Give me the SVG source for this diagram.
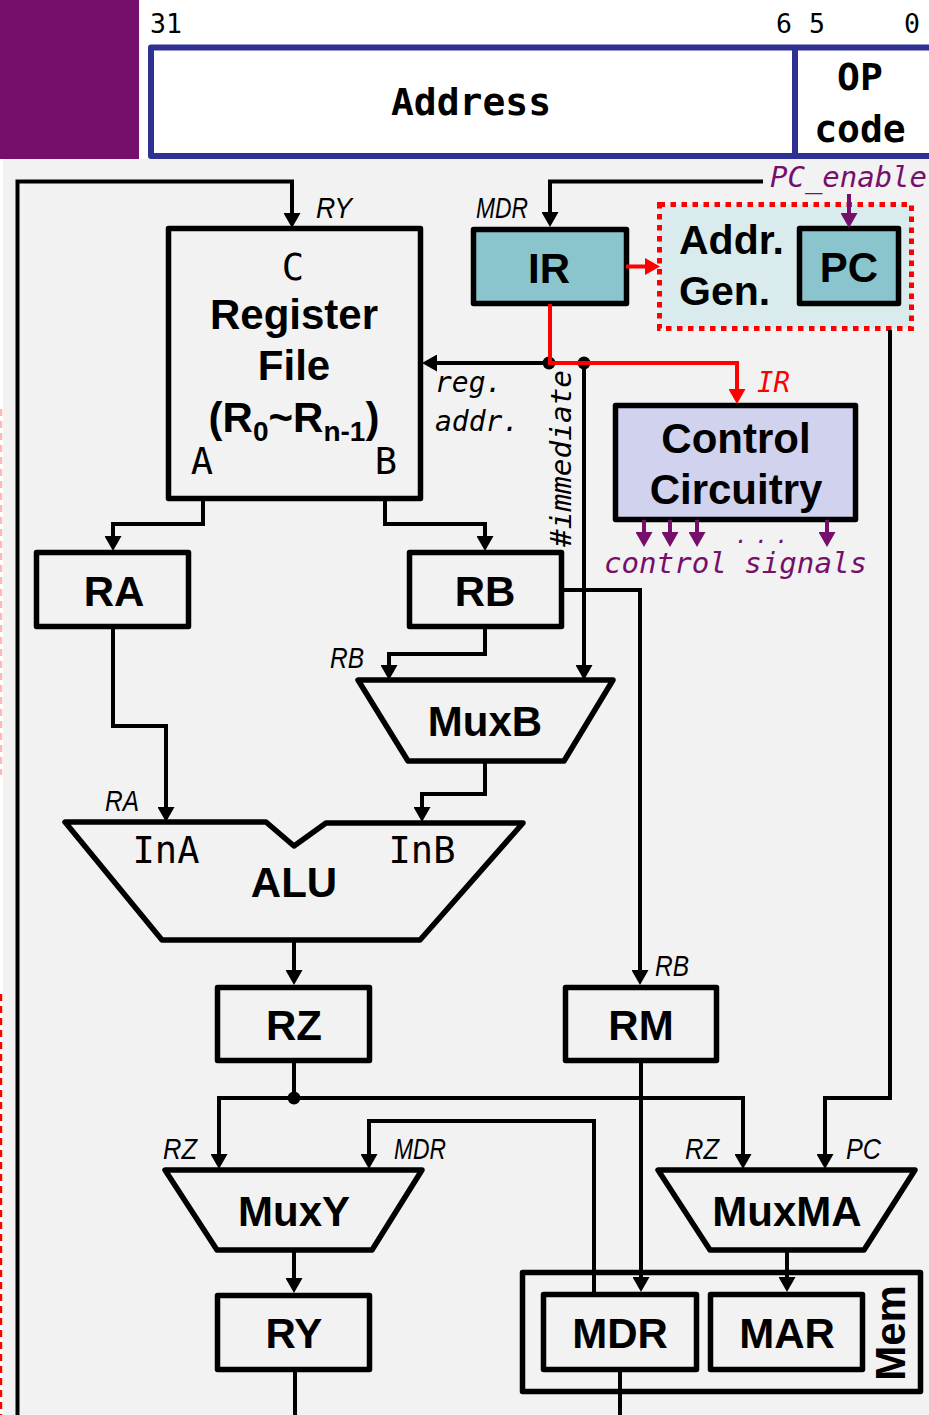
<svg xmlns="http://www.w3.org/2000/svg" width="929" height="1415" viewBox="0 0 929 1415">
<style>
.n{fill:none;stroke:#000;stroke-width:5.5;stroke-linejoin:round}
.c{fill:none;stroke:#000;stroke-width:4;marker-end:url(#ak)}
.l{fill:none;stroke:#000;stroke-width:4}
.r{fill:none;stroke:#f00;stroke-width:4;marker-end:url(#ar)}
.p{fill:none;stroke:#760F6B;stroke-width:4;marker-end:url(#ap)}
.b{font-family:"Liberation Sans",Arial,sans-serif;font-weight:700;font-size:42px;fill:#000;text-anchor:middle}
.m{font-family:"DejaVu Sans Mono",monospace;fill:#000}
.mb{font-weight:700;font-size:38px;text-anchor:middle}
.h{font-size:26.5px}
.t{font-size:37px;text-anchor:middle}
.mi{font-family:"DejaVu Sans Mono",monospace;font-style:italic;font-size:28px}
.s{font-family:"Liberation Sans",Arial,sans-serif;font-style:italic;font-size:29px;fill:#000}
</style>
<defs>
<marker id="ak" markerUnits="userSpaceOnUse" markerWidth="15" markerHeight="17" viewBox="0 0 15 17" refX="7" refY="8.500" orient="auto"><path d="M0,0L15,8.500L0,17z" fill="#000"/></marker>
<marker id="ar" markerUnits="userSpaceOnUse" markerWidth="15" markerHeight="17" viewBox="0 0 15 17" refX="7" refY="8.500" orient="auto"><path d="M0,0L15,8.500L0,17z" fill="#f00"/></marker>
<marker id="ap" markerUnits="userSpaceOnUse" markerWidth="15" markerHeight="17" viewBox="0 0 15 17" refX="7" refY="8.500" orient="auto"><path d="M0,0L15,8.500L0,17z" fill="#760F6B"/></marker>
</defs>
<rect width="929" height="1415" fill="#fff"/>
<rect x="3" y="159" width="926" height="1256" fill="#F2F2F2"/>
<rect width="139" height="159" fill="#760F6B"/>
<path d="M1,409V775" stroke="#FFB8B8" stroke-width="2.5" stroke-dasharray="7 5" fill="none"/>
<path d="M1,994V1415" stroke="#f00" stroke-width="2.5" stroke-dasharray="7 5" fill="none"/>
<g id="instruction">
<rect x="151" y="47.5" width="790" height="108.500" fill="#fff" stroke="#2E3192" stroke-width="6" stroke-linejoin="round"/>
<path d="M795,47V156" stroke="#2E3192" stroke-width="6"/>
<text class="m h" x="150" y="33">31</text>
<text class="m h" x="776" y="33">6</text>
<text class="m h" x="809" y="33">5</text>
<text class="m h" x="904" y="33">0</text>
<text class="m mb" x="471" y="115">Address</text>
<text class="m mb" x="860" y="90">OP</text>
<text class="m mb" x="860" y="142">code</text>
</g>
<g id="regfile">
<rect class="n" x="168.500" y="228.500" width="252" height="270"/>
<text class="m t" x="293" y="280">C</text>
<text class="b" x="294" y="329">Register</text>
<text class="b" x="294" y="380">File</text>
<text class="b" x="294" y="432">(R<tspan font-size="28" dy="9">0</tspan><tspan dy="-9">~R</tspan><tspan font-size="28" dy="9">n-1</tspan><tspan dy="-9">)</tspan></text>
<text class="m t" x="202" y="474">A</text>
<text class="m t" x="386" y="474">B</text>
</g>
<g id="ir"><rect class="n" x="473.500" y="229.500" width="153" height="74" style="fill:#8AC5CD"/><text class="b" x="549" y="283">IR</text></g>
<g id="addrgen">
<rect x="659.500" y="204.500" width="252" height="124" fill="#DAEBEE" stroke="#f00" stroke-width="5" stroke-dasharray="5.500 5.500"/>
<text class="b" style="text-anchor:start;font-size:41px" x="679" y="254">Addr.</text>
<text class="b" style="text-anchor:start;font-size:41px" x="679" y="305">Gen.</text>
</g>
<g id="pc"><rect class="n" x="799.500" y="228.500" width="99" height="75" style="fill:#8AC5CD"/><text class="b" x="849" y="282">PC</text></g>
<g id="control"><rect class="n" x="615.500" y="405.500" width="240" height="114" style="fill:#D0D2EE"/><text class="b" x="736" y="453">Control</text><text class="b" x="736" y="504">Circuitry</text></g>
<g id="ra"><rect class="n" x="36.500" y="552.500" width="152" height="74"/><text class="b" x="114" y="606">RA</text></g>
<g id="rb"><rect class="n" x="409.500" y="552.500" width="152" height="74"/><text class="b" x="485" y="606">RB</text></g>
<g id="muxb"><path class="n" d="M358,680H613L564,761H408Z"/><text class="b" x="485" y="736">MuxB</text></g>
<g id="alu"><path class="n" d="M65,822H266L294,846L326,823H523L420,940H162Z"/>
<text class="m t" x="166" y="863">InA</text><text class="m t" x="422" y="863">InB</text><text class="b" x="294" y="897">ALU</text></g>
<g id="rz"><rect class="n" x="217.500" y="987.500" width="152" height="73"/><text class="b" x="294" y="1040">RZ</text></g>
<g id="rm"><rect class="n" x="565.500" y="987.500" width="151" height="73"/><text class="b" x="641" y="1040">RM</text></g>
<g id="muxy"><path class="n" d="M165,1170H422L372,1250H217Z"/><text class="b" x="294" y="1226">MuxY</text></g>
<g id="muxma"><path class="n" d="M658,1170H915L864,1250H710Z"/><text class="b" x="787" y="1226">MuxMA</text></g>
<g id="ry"><rect class="n" x="217.500" y="1295.500" width="152" height="74"/><text class="b" x="294" y="1348">RY</text></g>
<g id="mem"><rect class="n" x="522.500" y="1272.500" width="398" height="119"/><text class="b" transform="translate(905 1333) rotate(-90)">Mem</text></g>
<g id="mdr"><rect class="n" x="543.500" y="1294.500" width="153" height="75"/><text class="b" x="620" y="1348">MDR</text></g>
<g id="mar"><rect class="n" x="710.500" y="1294.500" width="152" height="75"/><text class="b" x="787" y="1348">MAR</text></g>
<g id="connectors">
<path class="c" d="M17.500,1415V181.500H292V220"/>
<path class="c" d="M763,181.500H550V219"/>
<path class="c" d="M203,500V524H113V543"/>
<path class="c" d="M385,500V524H485V543"/>
<path class="c" d="M113,629V726H166V814"/>
<path class="c" d="M485,629V654H389V672"/>
<path class="c" d="M564,590H640V977"/>
<path class="c" d="M485,761V794H422V814"/>
<path class="c" d="M584,363V672"/>
<path class="c" d="M549,363H430"/>
<path class="c" d="M890,330V1098H825V1161"/>
<path class="c" d="M294,940V977"/>
<path class="l" d="M294,1063V1098"/>
<path class="c" d="M294,1098H219V1161"/>
<path class="c" d="M294,1098H743V1161"/>
<path class="c" d="M594,1292V1121H369V1161"/>
<path class="c" d="M641,1063V1284"/>
<path class="c" d="M787,1250V1284"/>
<path class="c" d="M294,1250V1285"/>
<path class="l" d="M295,1372V1415"/>
<path class="l" d="M620,1372V1415"/>
<circle cx="549" cy="363" r="6.500"/>
<circle cx="584" cy="363" r="6.500"/>
<circle cx="294" cy="1098" r="6.500"/>
<path class="r" d="M550,304V363H737V396"/>
<path class="r" d="M626,266.500H652"/>
<path class="p" d="M849,194V220"/>
<path class="p" d="M644,520V539"/>
<path class="p" d="M670,520V539"/>
<path class="p" d="M697,520V539"/>
<path class="p" d="M827,520V539"/>
</g>
<g id="labels">
<text class="s" x="316" y="218" textLength="36" lengthAdjust="spacingAndGlyphs">RY</text>
<text class="s" x="476" y="218" textLength="52" lengthAdjust="spacingAndGlyphs">MDR</text>
<text class="mi" x="770" y="187" fill="#760F6B" textLength="157" lengthAdjust="spacingAndGlyphs">PC_enable</text>
<text class="mi" x="757" y="392" fill="#f00" textLength="33" lengthAdjust="spacingAndGlyphs">IR</text>
<text class="mi" x="435" y="392">reg.</text>
<text class="mi" x="435" y="431">addr.</text>
<text class="mi" transform="translate(571 547) rotate(-90)" textLength="177" lengthAdjust="spacingAndGlyphs">#immediate</text>
<text class="mi" x="735" y="543" fill="#760F6B" font-size="22" style="font-size:22px;letter-spacing:7px">...</text>
<text class="mi" x="604" y="573" fill="#760F6B" textLength="263" lengthAdjust="spacingAndGlyphs">control signals</text>
<text class="s" x="330" y="668" textLength="34" lengthAdjust="spacingAndGlyphs">RB</text>
<text class="s" x="105" y="811" textLength="34" lengthAdjust="spacingAndGlyphs">RA</text>
<text class="s" x="655" y="976" textLength="34" lengthAdjust="spacingAndGlyphs">RB</text>
<text class="s" x="163" y="1159" textLength="34" lengthAdjust="spacingAndGlyphs">RZ</text>
<text class="s" x="394" y="1159" textLength="52" lengthAdjust="spacingAndGlyphs">MDR</text>
<text class="s" x="685" y="1159" textLength="34" lengthAdjust="spacingAndGlyphs">RZ</text>
<text class="s" x="846" y="1159" textLength="35" lengthAdjust="spacingAndGlyphs">PC</text>
</g>
</svg>
